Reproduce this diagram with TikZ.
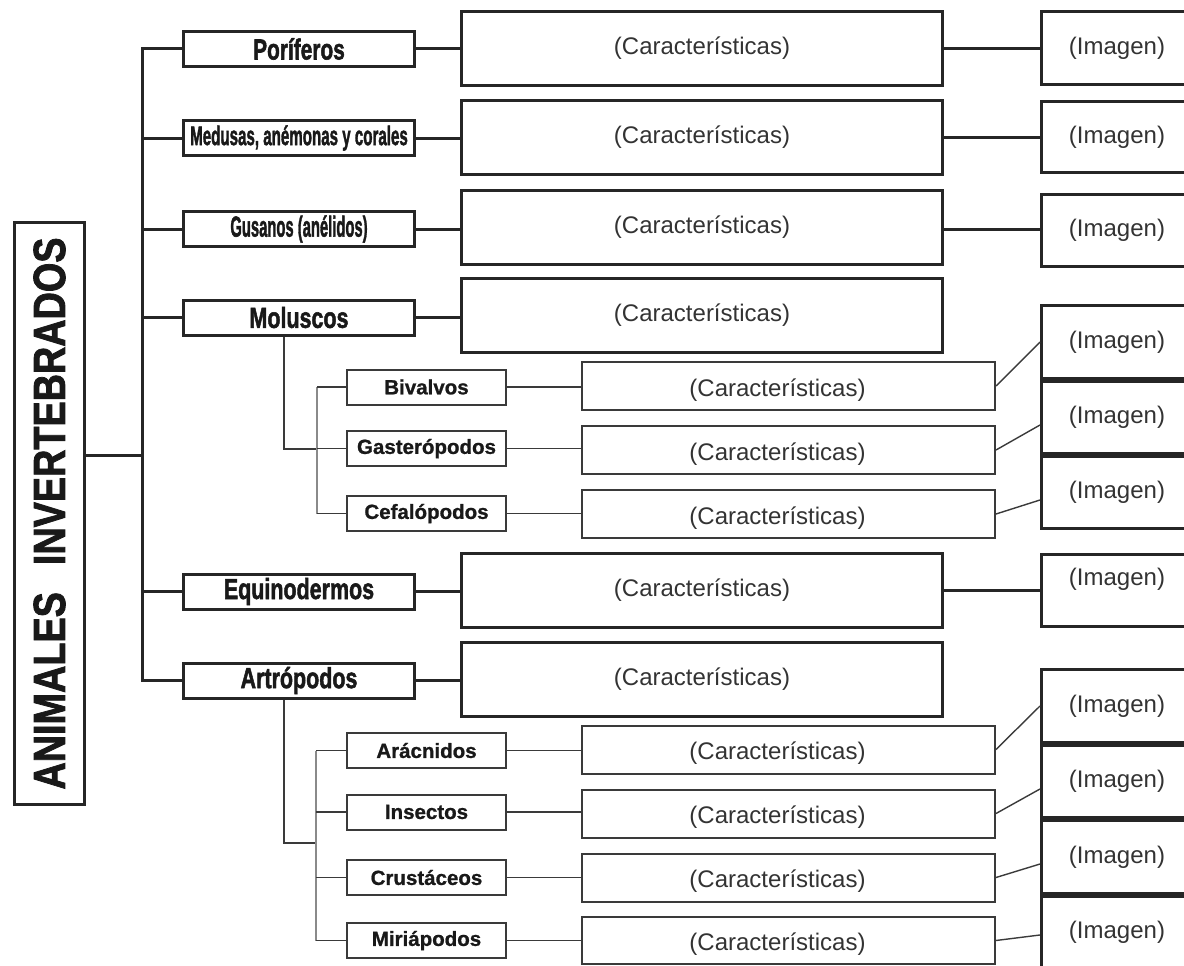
\documentclass[tikz,border=0pt]{standalone}
\usepackage{fontspec}
\usepackage{graphicx}
\setmainfont{Liberation Sans}
\newfontfamily\heavyfont{Liberation Sans}[BoldFeatures={FakeBold=2}]
\newfontfamily\semifont{Liberation Sans}[BoldFeatures={FakeBold=1}]
\usetikzlibrary{calc}
\definecolor{dk}{HTML}{262626}
\definecolor{sd}{HTML}{3A3A3A}
\definecolor{tx}{HTML}{333333}
\definecolor{gt}{HTML}{8A8A8A}
\newcommand{\hx}[2]{\scalebox{#1}[1]{#2}}
\newcommand{\subtxt}{\raisebox{-4pt}[\height][\depth]{\hspace*{-22pt}(Características)}}
\begin{document}
\begin{tikzpicture}[x=1pt,y=-1pt,
  lone/.style={draw=dk, line width=3pt, minimum width=231pt, minimum height=35pt, inner sep=0pt, font=\heavyfont\bfseries\fontsize{29}{30}\selectfont, text=black!90},
  cbox/.style={draw=dk, line width=3pt, minimum width=481pt, minimum height=74pt, inner sep=0pt, font=\fontsize{24}{28}\selectfont, text=tx},
  ibox/.style={draw=dk, line width=3pt, minimum width=151pt, minimum height=73pt, inner sep=0pt, font=\fontsize{24}{28}\selectfont, text=tx},
  sbox/.style={draw=sd, line width=2pt, minimum width=159pt, minimum height=35pt, inner sep=0pt, font=\semifont\bfseries\fontsize{20.5}{22}\selectfont, text=black!90},
  scbox/.style={draw=sd, line width=2pt, minimum width=413pt, minimum height=48pt, inner sep=0pt, font=\fontsize{24}{28}\selectfont, text=tx},
  titlebox/.style={draw=dk, line width=3pt, minimum width=70pt, minimum height=582pt, inner sep=0pt, font=\heavyfont\bfseries\fontsize{45}{46}\selectfont, text=black!90},
  trunk/.style={draw=dk, line width=3pt},
  dline/.style={draw=sd, line width=2pt},
  sline/.style={draw=sd, line width=1.8pt},
  gtrunk/.style={draw=gt, line width=2pt},
  diag/.style={draw=sd, line width=1.4pt}]
\useasboundingbox (0,0) rectangle (1184,966);

% title
\node[titlebox] (title) at (49.5,513.5) {\rotatebox{90}{\hx{0.84}{ANIMALES}\hspace{27pt}\hx{0.84}{INVERTEBRADOS}}};

% level-1 boxes
\node[lone] (por) at (299,49) {\hx{0.72}{Poríferos}};
\node[lone, font=\heavyfont\bfseries\fontsize{27}{28}\selectfont] (med) at (299,138) {\hx{0.56}{Medusas, anémonas y corales}};
\node[lone] (gus) at (299,229) {\hx{0.51}{Gusanos (anélidos)}};
\node[lone] (mol) at (299,317.5) {\hx{0.74}{Moluscos}};
\node[lone] (equ) at (299,591.5) {\hx{0.74}{Equinodermos}};
\node[lone] (art) at (299,680.5) {\hx{0.74}{Artrópodos}};

% characteristics boxes
\node[cbox] (porc) at (702,48.5) {(Características)};
\node[cbox] (medc) at (702,137.5) {(Características)};
\node[cbox] (gusc) at (702,227) {(Características)};
\node[cbox] (molc) at (702,315.5) {(Características)};
\node[cbox] (equc) at (702,590.5) {(Características)};
\node[cbox] (artc) at (702,679.5) {(Características)};

% image boxes
\node[ibox] (pori) at (1117,48) {(Imagen)};
\node[ibox, minimum height=71pt] (medi) at (1117,137) {(Imagen)};
\node[ibox, minimum height=72pt] (gusi) at (1117,230.5) {(Imagen)};
\node[ibox, minimum height=72pt] (equi) at (1117,590.5) {\raisebox{11pt}[\height][\depth]{(Imagen)}};

% Moluscos group
\node[sbox] (biv) at (426.5,387) {Bivalvos};
\node[sbox] (gas) at (426.5,448.5) {Gasterópodos};
\node[sbox] (cef) at (426.5,513.5) {Cefalópodos};
\node[scbox] (bivc) at (788.5,386) {\subtxt};
\node[scbox] (gasc) at (788.5,450) {\subtxt};
\node[scbox] (cefc) at (788.5,514) {\subtxt};
\node[ibox, minimum height=73pt] (imM1) at (1117,342) {(Imagen)};
\node[ibox, minimum height=72pt] (imM2) at (1117,417.5) {(Imagen)};
\node[ibox, minimum height=72pt] (imM3) at (1117,492.5) {(Imagen)};

% Artropodos group
\node[sbox] (ara) at (426.5,750.5) {Arácnidos};
\node[sbox] (ins) at (426.5,812) {Insectos};
\node[sbox] (cru) at (426.5,877.5) {Crustáceos};
\node[sbox] (mir) at (426.5,940.5) {Miriápodos};
\node[scbox] (arac) at (788.5,749.5) {\subtxt};
\node[scbox] (insc) at (788.5,813.5) {\subtxt};
\node[scbox] (cruc) at (788.5,877.5) {\subtxt};
\node[scbox, minimum height=47pt] (miric) at (788.5,940.5) {\subtxt};
\node[ibox, minimum height=73pt] (imA1) at (1117,706) {(Imagen)};
\node[ibox, minimum height=72pt] (imA2) at (1117,781.5) {(Imagen)};
\node[ibox, minimum height=73pt] (imA3) at (1117,857) {(Imagen)};
\node[ibox, minimum height=72pt] (imA4) at (1117,932.5) {(Imagen)};

% main trunk
\coordinate (tj) at (142,455);
\draw[trunk] (tj -| title.east) -- (tj);
\foreach \n in {por,med,gus,mol,equ,art} \draw[trunk] (\n.west) -| (tj);

% level-1 to characteristics to image
\draw[trunk] (por.east) -- (por.east -| porc.west);
\draw[trunk] (med.east) -- (med.east -| medc.west);
\draw[trunk] (gus.east) -- (gus.east -| gusc.west);
\draw[trunk] (mol.east) -- (mol.east -| molc.west);
\draw[trunk] (equ.east) -- (equ.east -| equc.west);
\draw[trunk] (art.east) -- (art.east -| artc.west);
\draw[trunk] (porc.east) -- (porc.east -| pori.west);
\draw[trunk] (medc.east) -- (medc.east -| medi.west);
\draw[trunk] (gus.east -| gusc.east) -- (gus.east -| gusi.west);
\draw[trunk] (equc.east) -- (equc.east -| equi.west);

% Moluscos sub-tree
\coordinate (mj) at (284,448.5);
\coordinate (mt) at (317,448.5);
\draw[dline] (mol.south -| mj) -- (mj) -- (mt);
\draw[gtrunk] (biv.west -| mt) -- (cef.west -| mt);
\foreach \n in {biv,gas,cef} \draw[sline] (\n.west -| mt) -- (\n.west);
\draw[sline] (biv.east) -- (biv.east -| bivc.west);
\draw[sline] (gas.east) -- (gas.east -| gasc.west);
\draw[sline] (cef.east) -- (cef.east -| cefc.west);
\draw[diag] (bivc.east) -- (imM1.west);
\draw[diag] (gasc.east) -- ($(imM2.west)+(0,7.5)$);
\draw[diag] (cefc.east) -- ($(imM3.west)+(0,7.5)$);

% Artropodos sub-tree
\coordinate (aj) at (284,843);
\coordinate (at) at (316,843);
\draw[dline] (art.south -| aj) -- (aj) -- (at);
\draw[gtrunk] (ara.west -| at) -- (mir.west -| at);
\foreach \n in {ara,ins,cru,mir} \draw[sline] (\n.west -| at) -- (\n.west);
\draw[sline] (ara.east) -- (ara.east -| arac.west);
\draw[sline] (ins.east) -- (ins.east -| insc.west);
\draw[sline] (cru.east) -- (cru.east -| cruc.west);
\draw[sline] (mir.east) -- (mir.east -| miric.west);
\draw[diag] (arac.east) -- (imA1.west);
\draw[diag] (insc.east) -- ($(imA2.west)+(0,7.5)$);
\draw[diag] (cruc.east) -- ($(imA3.west)+(0,7)$);
\draw[diag] (miric.east) -- ($(imA4.west)+(0,2.5)$);
\end{tikzpicture}
\end{document}
